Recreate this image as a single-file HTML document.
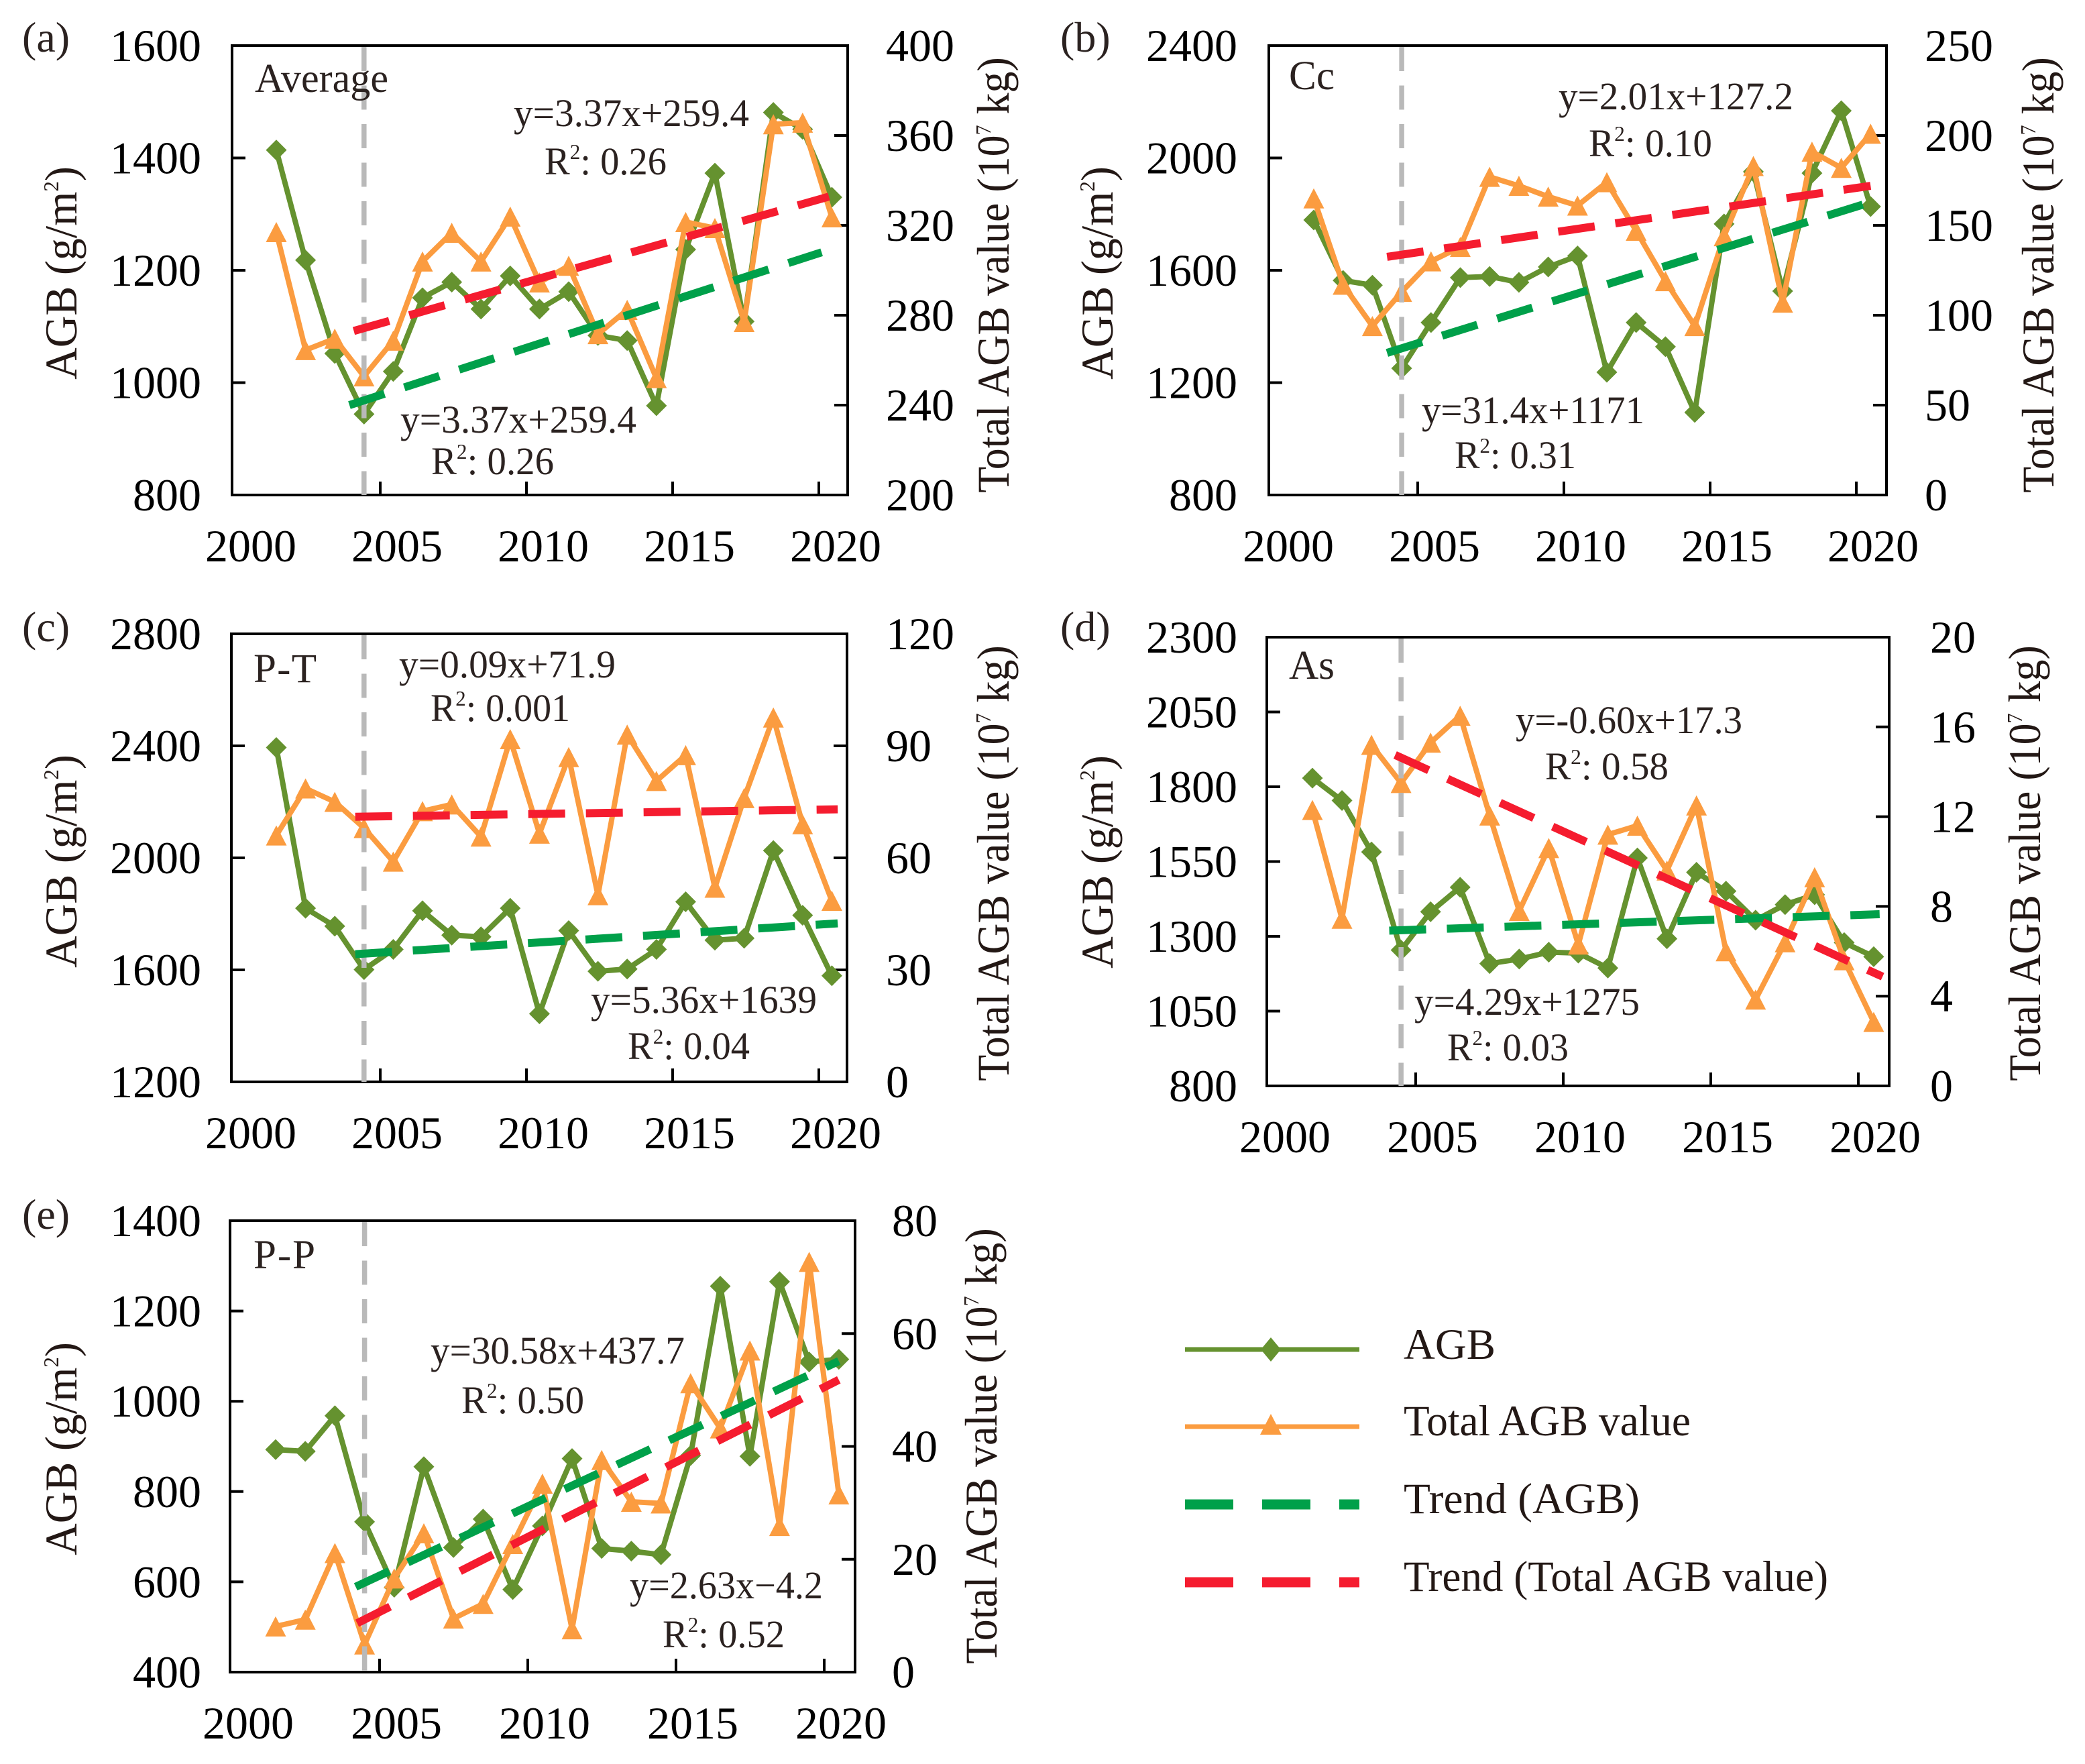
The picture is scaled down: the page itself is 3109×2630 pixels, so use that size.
<!DOCTYPE html>
<html>
<head>
<meta charset="utf-8">
<style>
html,body{margin:0;padding:0;background:#fff;}
svg{display:block;font-family:"Liberation Serif",serif;}
.note{font-size:58px;fill:#2b2220;}
.rsq{font-size:58px;fill:#2b2220;}
.sup{font-size:32px;}
.name{font-size:61px;fill:#2b2220;}
.plabel{font-size:64px;fill:#2b2220;}
.title{font-size:68px;fill:#231815;}
.leg{font-size:65px;fill:#231815;}
</style>
</head>
<body>
<svg id="chart" xmlns="http://www.w3.org/2000/svg" width="3109" height="2630" viewBox="0 0 3109 2630">
<rect width="3109" height="2630" fill="#fff"/>
<g id="marks"></g>

<g>
<text class="plabel" x="33" y="77">(a)</text>
<text class="name" x="380" y="137" textLength="199" lengthAdjust="spacingAndGlyphs">Average</text>
<text class="note" x="766" y="188" textLength="351" lengthAdjust="spacingAndGlyphs">y=3.37x+259.4</text>
<text class="rsq" x="812" y="260" textLength="182" lengthAdjust="spacingAndGlyphs">R<tspan class="sup" dy="-23">2</tspan><tspan dy="23">: 0.26</tspan></text>
<text class="note" x="597" y="645" textLength="352" lengthAdjust="spacingAndGlyphs">y=3.37x+259.4</text>
<text class="rsq" x="643" y="707" textLength="183" lengthAdjust="spacingAndGlyphs">R<tspan class="sup" dy="-23">2</tspan><tspan dy="23">: 0.26</tspan></text>

<text class="plabel" x="1581" y="77">(b)</text>
<text class="name" x="1922" y="133" textLength="68" lengthAdjust="spacingAndGlyphs">Cc</text>
<text class="note" x="2324" y="163" textLength="350" lengthAdjust="spacingAndGlyphs">y=2.01x+127.2</text>
<text class="rsq" x="2369" y="233" textLength="184" lengthAdjust="spacingAndGlyphs">R<tspan class="sup" dy="-23">2</tspan><tspan dy="23">: 0.10</tspan></text>
<text class="note" x="2120" y="631" textLength="332" lengthAdjust="spacingAndGlyphs">y=31.4x+1171</text>
<text class="rsq" x="2169" y="698" textLength="181" lengthAdjust="spacingAndGlyphs">R<tspan class="sup" dy="-23">2</tspan><tspan dy="23">: 0.31</tspan></text>

<text class="plabel" x="33" y="956">(c)</text>
<text class="name" x="378" y="1017" textLength="94" lengthAdjust="spacing">P-T</text>
<text class="note" x="595" y="1010" textLength="323" lengthAdjust="spacingAndGlyphs">y=0.09x+71.9</text>
<text class="rsq" x="642" y="1075" textLength="208" lengthAdjust="spacingAndGlyphs">R<tspan class="sup" dy="-23">2</tspan><tspan dy="23">: 0.001</tspan></text>
<text class="note" x="881" y="1510" textLength="337" lengthAdjust="spacingAndGlyphs">y=5.36x+1639</text>
<text class="rsq" x="936" y="1579" textLength="182" lengthAdjust="spacingAndGlyphs">R<tspan class="sup" dy="-23">2</tspan><tspan dy="23">: 0.04</tspan></text>

<text class="plabel" x="1581" y="956">(d)</text>
<text class="name" x="1922" y="1012" textLength="68" lengthAdjust="spacingAndGlyphs">As</text>
<text class="note" x="2260" y="1093" textLength="338" lengthAdjust="spacingAndGlyphs">y=-0.60x+17.3</text>
<text class="rsq" x="2304" y="1162" textLength="184" lengthAdjust="spacingAndGlyphs">R<tspan class="sup" dy="-23">2</tspan><tspan dy="23">: 0.58</tspan></text>
<text class="note" x="2109" y="1513" textLength="336" lengthAdjust="spacingAndGlyphs">y=4.29x+1275</text>
<text class="rsq" x="2158" y="1581" textLength="181" lengthAdjust="spacingAndGlyphs">R<tspan class="sup" dy="-23">2</tspan><tspan dy="23">: 0.03</tspan></text>

<text class="plabel" x="33" y="1832">(e)</text>
<text class="name" x="378" y="1891" textLength="92" lengthAdjust="spacing">P-P</text>
<text class="note" x="642" y="2033" textLength="379" lengthAdjust="spacingAndGlyphs">y=30.58x+437.7</text>
<text class="rsq" x="688" y="2107" textLength="183" lengthAdjust="spacingAndGlyphs">R<tspan class="sup" dy="-23">2</tspan><tspan dy="23">: 0.50</tspan></text>
<text class="note" x="939" y="2383" textLength="288" lengthAdjust="spacingAndGlyphs">y=2.63x−4.2</text>
<text class="rsq" x="988" y="2456" textLength="182" lengthAdjust="spacingAndGlyphs">R<tspan class="sup" dy="-23">2</tspan><tspan dy="23">: 0.52</tspan></text>
</g>

<g>
<text class="title" text-anchor="middle" transform="translate(114,407) rotate(-90) scale(.97,1)">AGB (g/m<tspan class="sup" font-size="36" dy="-27">2</tspan><tspan dy="27">)</tspan></text>
<text class="title" text-anchor="middle" transform="translate(1504,410) rotate(-90) scale(.94,1)">Total AGB value (10<tspan class="sup" font-size="36" dy="-27">7</tspan><tspan dy="27"> kg)</tspan></text>
<text class="title" text-anchor="middle" transform="translate(1659,407) rotate(-90) scale(.97,1)">AGB (g/m<tspan class="sup" font-size="36" dy="-27">2</tspan><tspan dy="27">)</tspan></text>
<text class="title" text-anchor="middle" transform="translate(3062,410) rotate(-90) scale(.94,1)">Total AGB value (10<tspan class="sup" font-size="36" dy="-27">7</tspan><tspan dy="27"> kg)</tspan></text>
<text class="title" text-anchor="middle" transform="translate(114,1284) rotate(-90) scale(.97,1)">AGB (g/m<tspan class="sup" font-size="36" dy="-27">2</tspan><tspan dy="27">)</tspan></text>
<text class="title" text-anchor="middle" transform="translate(1504,1287) rotate(-90) scale(.94,1)">Total AGB value (10<tspan class="sup" font-size="36" dy="-27">7</tspan><tspan dy="27"> kg)</tspan></text>
<text class="title" text-anchor="middle" transform="translate(1659,1285) rotate(-90) scale(.97,1)">AGB (g/m<tspan class="sup" font-size="36" dy="-27">2</tspan><tspan dy="27">)</tspan></text>
<text class="title" text-anchor="middle" transform="translate(3042,1287) rotate(-90) scale(.94,1)">Total AGB value (10<tspan class="sup" font-size="36" dy="-27">7</tspan><tspan dy="27"> kg)</tspan></text>
<text class="title" text-anchor="middle" transform="translate(114,2160) rotate(-90) scale(.97,1)">AGB (g/m<tspan class="sup" font-size="36" dy="-27">2</tspan><tspan dy="27">)</tspan></text>
<text class="title" text-anchor="middle" transform="translate(1486,2156) rotate(-90) scale(.94,1)">Total AGB value (10<tspan class="sup" font-size="36" dy="-27">7</tspan><tspan dy="27"> kg)</tspan></text>
</g>

<g>
<g>
<line x1="1767" x2="2027" y1="2012" y2="2012" stroke="#65922f" stroke-width="7"/>
<polygon points="1895,1994 1910,2012 1895,2030 1880,2012" fill="#65922f"/>
<text class="leg" x="2093" y="2026" textLength="137" lengthAdjust="spacingAndGlyphs">AGB</text>
</g>
<g>
<line x1="1767" x2="2027" y1="2127" y2="2127" stroke="#fb9c40" stroke-width="7"/>
<polygon points="1895,2108 1911,2139 1879,2139" fill="#fb9c40"/>
<text class="leg" x="2093" y="2140" textLength="428" lengthAdjust="spacingAndGlyphs">Total AGB value</text>
</g>
<g>
<line x1="1767" x2="2027" y1="2243" y2="2243" stroke="#00a04a" stroke-width="15" stroke-dasharray="72 43"/>
<text class="leg" x="2093" y="2256" textLength="352" lengthAdjust="spacingAndGlyphs">Trend (AGB)</text>
</g>
<g>
<line x1="1767" x2="2027" y1="2359" y2="2359" stroke="#f51c2f" stroke-width="15" stroke-dasharray="72 43"/>
<text class="leg" x="2093" y="2372" textLength="633" lengthAdjust="spacingAndGlyphs">Trend (Total AGB value)</text>
</g>
</g>
</svg>

<script>
const years = [2001,2002,2003,2004,2005,2006,2007,2008,2009,2010,2011,2012,2013,2014,2015,2016,2017,2018,2019,2020];
const xTickYears = [2000,2005,2010,2015,2020];

const agbA = [1414,1218,1052,944,1020,1151,1179,1131,1190,1131,1162,1084,1075,959,1237,1373,1109,1481,1451,1330];
const totalA = [317,264.5,269.6,252.8,268.7,303.9,316.7,303.9,323.9,294.6,302,271.6,282.4,252,321.5,318.8,277,365,365.7,323.6];
const trendAgbA = [960,1232];
const trendTotalA = [273,332.8];
const trendAgbYearsA = [2003.5,2019.65];
const trendTotalYearsA = [2003.65,2019.9];
const leftTicksA = [800,1000,1200,1400,1600];
const rightTicksA = [200,240,280,320,360,400];

const agbB = [1779,1564,1547,1251,1414,1574,1578,1557,1612,1651,1237,1414,1328,1094,1765,1951,1526,1946,2168,1827];
const totalB = [165,117,94,113,130,138,177,172,166,161,174,147,119,94,144,183,107,191,182,201];
const trendAgbB = [1306,1836];
const trendTotalB = [132.5,172];
const trendAgbYearsB = [2003.5,2019.8];
const trendTotalYearsB = [2003.5,2020];
const leftTicksB = [800,1200,1600,2000,2400];
const rightTicksB = [0,50,100,150,200,250];

const agbC = [2394,1820,1756,1601,1673,1811,1724,1718,1820,1443,1740,1595,1603,1673,1843,1706,1713,2026,1795,1579];
const totalC = [66,78.6,75,68,59,72.5,74.3,65.7,91.8,66.5,87,50,93,80.6,87.5,52,76,97.6,69,48.5];
const trendAgbC = [1656,1766];
const trendTotalC = [71,73];
const trendAgbYearsC = [2003.7,2020.2];
const trendTotalYearsC = [2003.7,2020.2];
const leftTicksC = [1200,1600,2000,2400,2800];
const rightTicksC = [0,30,60,90,120];

const agbD = [1829,1754,1582,1254,1382,1464,1209,1224,1247,1244,1194,1562,1292,1514,1451,1354,1406,1439,1279,1232];
const totalD = [12.3,7.45,15.2,13.5,15.3,16.5,12.05,7.8,10.6,6.3,11.2,11.6,9.6,12.5,6,3.85,6.4,9.3,5.6,2.85];
const trendAgbD = [1319,1374];
const trendTotalD = [14.75,4.87];
const trendAgbYearsD = [2003.6,2020.2];
const trendTotalYearsD = [2003.8,2020.3];
const leftTicksD = [800,1050,1300,1550,1800,2050,2300];
const rightTicksD = [0,4,8,12,16,20];

const agbE = [893,889,968,733,588,855,676,739,583,724,873,674,668,660,880,1255,878,1265,1087,1093];
const totalE = [8.1,9.3,21.1,4.9,16.6,24.6,9.5,12.1,22.7,33.4,7.6,37.6,30.2,29.9,51.2,43.2,57,25.9,72.7,31.5];
const trendAgbE = [589,1089];
const trendTotalE = [8.66,51.8];
const trendAgbYearsE = [2003.7,2020];
const trendTotalYearsE = [2003.75,2020];
const leftTicksE = [400,600,800,1000,1200,1400];
const rightTicksE = [0,20,40,60,80];

const SVGNS = 'http://www.w3.org/2000/svg';
const root = document.getElementById('marks');
const GREEN = '#65922f', ORANGE = '#fb9c40', TGREEN = '#00a04a', TRED = '#f51c2f';

function make(tag, parent, attrs) {
  const el = document.createElementNS(SVGNS, tag);
  for (const k in attrs) el.setAttribute(k, attrs[k]);
  parent.appendChild(el);
  return el;
}
function xScale(f, year) { return f.x2001 + (year - 2001) * f.step; }
function xTick(f, year) { return f.tick0 + (year - 2000) / 5 * f.tickStep; }
function yScale(f, ticks, v) {
  const lo = ticks[0], hi = ticks[ticks.length - 1];
  return f.bottom - (v - lo) / (hi - lo) * (f.bottom - f.top);
}
function tickText(parent, x, y, label, anchor) {
  const s = String(label);
  const t = make('text', parent, {x: x, y: y, 'font-size': 68, fill: '#000', 'text-anchor': anchor});
  t.textContent = s;
  
  
  return t;
}

function drawPanel(p) {
  const f = p.frame;
  const g = make('g', root, {});
  
  

  const yL = function (v) { return yScale(f, p.leftTicks, v); };
  const yR = function (v) { return yScale(f, p.rightTicks, v); };

  // frame
  const box = make('rect', g, {x: f.left, y: f.top, width: f.right - f.left, height: f.bottom - f.top, fill: 'none', stroke: '#000', 'stroke-width': 4});
  
  

  // ticks + labels
  p.leftTicks.forEach(function (v, i) {
    const y = yL(v);
    if (i > 0 && i < p.leftTicks.length - 1) {
      const tk = make('line', g, {x1: f.left, x2: f.left + 20, y1: y, y2: y, stroke: '#000', 'stroke-width': 4});
      
      
    }
    tickText(g, f.leftLabelX, y + 23, v, 'end');
  });
  p.rightTicks.forEach(function (v, i) {
    const y = yR(v);
    if (i > 0 && i < p.rightTicks.length - 1) {
      const tk = make('line', g, {x1: f.right - 20, x2: f.right, y1: y, y2: y, stroke: '#000', 'stroke-width': 4});
      
      
    }
    tickText(g, f.rightLabelX, y + 23, v, 'start');
  });
  xTickYears.forEach(function (yr, i) {
    const x = xTick(f, yr);
    if (i > 0) {
      const tk = make('line', g, {x1: x, x2: x, y1: f.bottom - 20, y2: f.bottom, stroke: '#000', 'stroke-width': 4});
      
      
    }
    tickText(g, x + 25, f.bottom + 99, yr, 'middle');
  });

  // AGB series
  const agbPts = p.agb.map(function (v, i) { return xScale(f, years[i]) + ',' + yL(v); }).join(' ');
  const agbLine = make('polyline', g, {points: agbPts, fill: 'none', stroke: GREEN, 'stroke-width': 8, 'stroke-linejoin': 'round'});
  
  
  p.agb.forEach(function (v, i) {
    const cx = xScale(f, years[i]), cy = yL(v), r = 15.5;
    const m = make('polygon', g, {points: cx + ',' + (cy - r) + ' ' + (cx + r) + ',' + cy + ' ' + cx + ',' + (cy + r) + ' ' + (cx - r) + ',' + cy, fill: GREEN});
    
    
  });

  // Total series
  const totPts = p.total.map(function (v, i) { return xScale(f, years[i]) + ',' + yR(v); }).join(' ');
  const totLine = make('polyline', g, {points: totPts, fill: 'none', stroke: ORANGE, 'stroke-width': 8, 'stroke-linejoin': 'round'});
  
  
  p.total.forEach(function (v, i) {
    const cx = xScale(f, years[i]), cy = yR(v), w = 15.5, h = 15;
    const m = make('polygon', g, {points: cx + ',' + (cy - h) + ' ' + (cx + w) + ',' + (cy + h) + ' ' + (cx - w) + ',' + (cy + h), fill: ORANGE});
    
    
  });

  // 2004 marker
  const vx = xScale(f, 2004);
  const vl = make('line', g, {x1: vx, x2: vx, y1: f.top + 2, y2: f.bottom, stroke: '#b9b9b9', 'stroke-width': 7.5, 'stroke-dasharray': '36 21.5'});
  
  

  // Trends
  const tg = make('line', g, {x1: xScale(f, p.trendAgbYears[0]), x2: xScale(f, p.trendAgbYears[1]), y1: yL(p.trendAgb[0]), y2: yL(p.trendAgb[1]), stroke: TGREEN, 'stroke-width': 12, 'stroke-dasharray': '55 31'});
  
  
  const tr = make('line', g, {x1: xScale(f, p.trendTotalYears[0]), x2: xScale(f, p.trendTotalYears[1]), y1: yR(p.trendTotal[0]), y2: yR(p.trendTotal[1]), stroke: TRED, 'stroke-width': 12, 'stroke-dasharray': '55 31'});
  
  
}

drawPanel({id: 'a', agb: agbA, total: totalA, trendAgb: trendAgbA, trendTotal: trendTotalA, trendAgbYears: trendAgbYearsA, trendTotalYears: trendTotalYearsA, leftTicks: leftTicksA, rightTicks: rightTicksA,
  frame: {left: 346, right: 1264, top: 68, bottom: 738, x2001: 412, step: 43.6, tick0: 349, tickStep: 218, leftLabelX: 300, rightLabelX: 1321}});
drawPanel({id: 'b', agb: agbB, total: totalB, trendAgb: trendAgbB, trendTotal: trendTotalB, trendAgbYears: trendAgbYearsB, trendTotalYears: trendTotalYearsB, leftTicks: leftTicksB, rightTicks: rightTicksB,
  frame: {left: 1892, right: 2813, top: 68, bottom: 738, x2001: 1959, step: 43.7, tick0: 1896, tickStep: 218, leftLabelX: 1845, rightLabelX: 2870}});
drawPanel({id: 'c', agb: agbC, total: totalC, trendAgb: trendAgbC, trendTotal: trendTotalC, trendAgbYears: trendAgbYearsC, trendTotalYears: trendTotalYearsC, leftTicks: leftTicksC, rightTicks: rightTicksC,
  frame: {left: 345, right: 1263, top: 945, bottom: 1613, x2001: 412, step: 43.6, tick0: 349, tickStep: 218, leftLabelX: 300, rightLabelX: 1321}});
drawPanel({id: 'd', agb: agbD, total: totalD, trendAgb: trendAgbD, trendTotal: trendTotalD, trendAgbYears: trendAgbYearsD, trendTotalYears: trendTotalYearsD, leftTicks: leftTicksD, rightTicks: rightTicksD,
  frame: {left: 1889, right: 2817, top: 950, bottom: 1619, x2001: 1957, step: 44.05, tick0: 1891, tickStep: 220, leftLabelX: 1845, rightLabelX: 2878}});
drawPanel({id: 'e', agb: agbE, total: totalE, trendAgb: trendAgbE, trendTotal: trendTotalE, trendAgbYears: trendAgbYearsE, trendTotalYears: trendTotalYearsE, leftTicks: leftTicksE, rightTicks: rightTicksE,
  frame: {left: 343, right: 1275, top: 1820, bottom: 2493, x2001: 411, step: 44.2, tick0: 345, tickStep: 221, leftLabelX: 300, rightLabelX: 1330}});
</script>
</body>
</html>
